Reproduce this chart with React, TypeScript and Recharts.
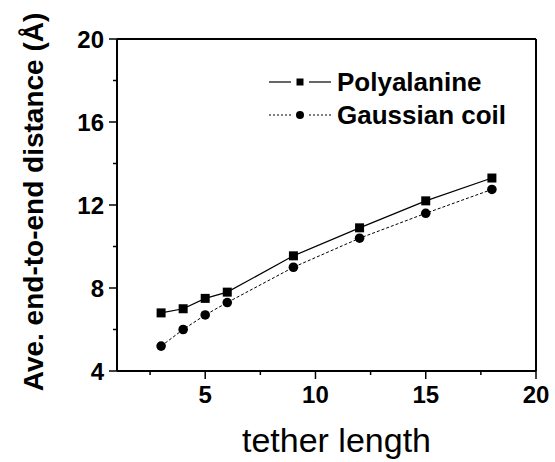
import React from "react"
import { LineChart, Line, XAxis, YAxis, ReferenceLine } from "recharts"

const tetherLength = [3, 4, 5, 6, 9, 12, 15, 18]
const polyalanine = [6.8, 7.0, 7.5, 7.8, 9.55, 10.9, 12.2, 13.3]
const gaussianCoil = [5.2, 6.0, 6.7, 7.3, 9.0, 10.4, 11.6, 12.75]
const xTicks = [2.5, 5, 7.5, 10, 12.5, 15, 17.5, 20]
const yTicks = [4, 6, 8, 10, 12, 14, 16, 18, 20]
const seriesNames = ["Polyalanine", "Gaussian coil"]

const data = tetherLength.map((t, i) => ({
  t,
  poly: polyalanine[i],
  gauss: gaussianCoil[i],
}))

const FONT = '"Liberation Sans", Arial, sans-serif'

const XTick = (props: any) => {
  const { x, y, payload } = props
  const major = payload.value % 5 === 0
  return (
    <g>
      <line x1={x} x2={x} y1={y} y2={y + (major ? 8 : 4)} stroke="#000" strokeWidth={1.5} />
      {major && (
        <text x={x} y={y + 32} textAnchor="middle" fontFamily={FONT} fontWeight="bold" fontSize={24} fill="#000">
          {payload.value}
        </text>
      )}
    </g>
  )
}

const YTick = (props: any) => {
  const { x, y, payload } = props
  const major = payload.value % 4 === 0
  return (
    <g>
      <line x1={x} x2={x - (major ? 8 : 4)} y1={y} y2={y} stroke="#000" strokeWidth={1.5} />
      {major && (
        <text x={x - 13} y={y + 8.5} textAnchor="end" fontFamily={FONT} fontWeight="bold" fontSize={24} fill="#000">
          {payload.value}
        </text>
      )}
    </g>
  )
}

const SquareDot = (props: any) => {
  const { cx, cy, index } = props
  return <rect key={`sq-${index}`} x={cx - 4.5} y={cy - 4.5} width={9} height={9} fill="#000" />
}

const CircleDot = (props: any) => {
  const { cx, cy, index } = props
  return <circle key={`ci-${index}`} cx={cx} cy={cy} r={4.8} fill="#000" />
}

// legend drawn as an overlay so it doesn't eat into the plot area
const LegendBox = () => (
  <svg width={290} height={80} style={{ position: "absolute", left: 260, top: 60 }}>
    <line x1={9} x2={31} y1={22} y2={22} stroke="#000" strokeWidth={1.2} />
    <rect x={36.5} y={18.5} width={7} height={7} fill="#000" />
    <line x1={49} x2={71} y1={22} y2={22} stroke="#000" strokeWidth={1.2} />
    <text x={77} y={31} fontFamily={FONT} fontWeight="bold" fontSize={26} fill="#000">{seriesNames[0]}</text>
    <line x1={9} x2={31} y1={55} y2={55} stroke="#000" strokeWidth={1} strokeDasharray="2 2" />
    <circle cx={40} cy={55} r={4} fill="#000" />
    <line x1={49} x2={71} y1={55} y2={55} stroke="#000" strokeWidth={1} strokeDasharray="2 2" />
    <text x={77} y={64} fontFamily={FONT} fontWeight="bold" fontSize={26} fill="#000">{seriesNames[1]}</text>
  </svg>
)

export default function App() {
  return (
    <div style={{ position: "absolute", left: 0, top: 0, width: 555, height: 462, background: "#fff" }}>
      <LineChart width={555} height={462} data={data} margin={{ top: 39, right: 19, left: 0, bottom: 0 }}>
        <XAxis
          dataKey="t"
          type="number"
          domain={[1, 20]}
          ticks={xTicks}
          allowDataOverflow
          height={91}
          tickSize={0}
          tickMargin={0}
          tickLine={false}
          tick={<XTick />}
          axisLine={{ stroke: "#000", strokeWidth: 2 }}
          label={{
            content: (p: any) => {
              const vb = p.viewBox
              return (
                <text x={vb.x + vb.width / 2 + 10} y={vb.y + 81} textAnchor="middle" fontFamily={FONT} fontSize={34} fill="#000">
                  tether length
                </text>
              )
            },
          }}
        />
        <YAxis
          type="number"
          domain={[4, 20]}
          ticks={yTicks}
          width={117}
          tickSize={0}
          tickMargin={0}
          tickLine={false}
          tick={<YTick />}
          axisLine={{ stroke: "#000", strokeWidth: 2 }}
          label={{
            content: (p: any) => {
              const vb = p.viewBox
              const cx = 43
              const cy = vb.y + vb.height / 2 - 3
              return (
                <text x={cx} y={cy} transform={`rotate(-90 ${cx} ${cy})`} textAnchor="middle" fontFamily={FONT} fontWeight="bold" fontSize={28} fill="#000">
                  Ave. end-to-end distance (Å)
                </text>
              )
            },
          }}
        />
        <ReferenceLine y={20} stroke="#000" strokeWidth={2} />
        <ReferenceLine x={20} stroke="#000" strokeWidth={2} />
        <Line
          dataKey="poly"
          name={seriesNames[0]}
          stroke="#000"
          strokeWidth={1.2}
          dot={SquareDot}
          activeDot={false}
          isAnimationActive={false}
        />
        <Line
          dataKey="gauss"
          name={seriesNames[1]}
          stroke="#000"
          strokeWidth={1}
          strokeDasharray="3 2"
          dot={CircleDot}
          activeDot={false}
          isAnimationActive={false}
        />
      </LineChart>
      <LegendBox />
    </div>
  )
}
